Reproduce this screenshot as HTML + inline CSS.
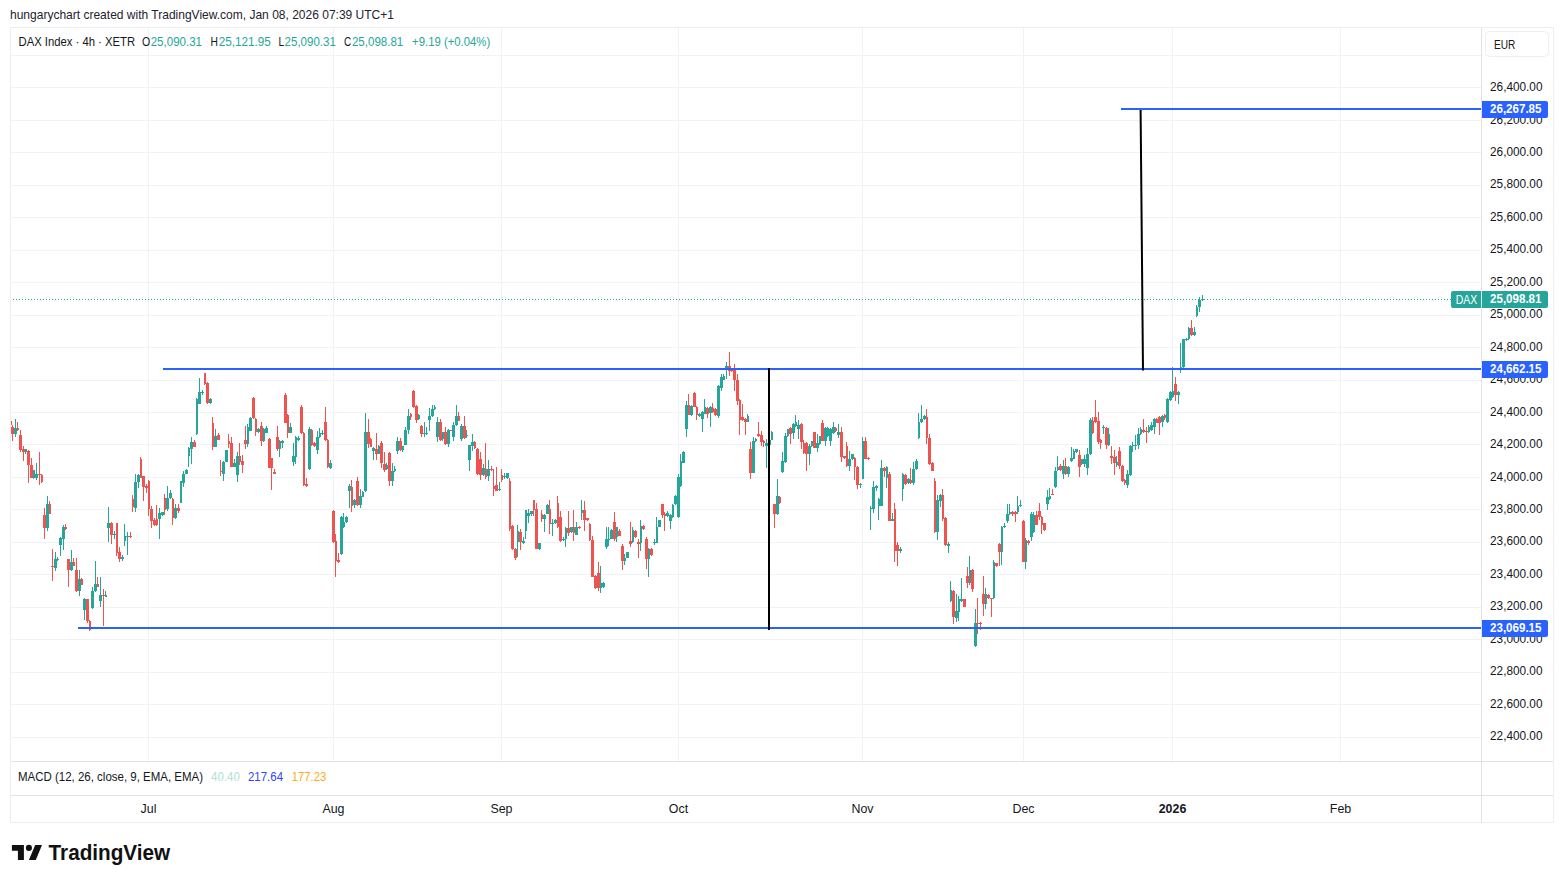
<!DOCTYPE html>
<html lang="en"><head><meta charset="utf-8"><title>DAX Index 4h chart</title>
<style>html,body{margin:0;padding:0;background:#fff}body{width:1563px;height:883px;overflow:hidden}svg{display:block}text{font-family:"Liberation Sans",Arial,sans-serif;font-size:12.4px}</style></head><body>
<svg width="1563" height="883" viewBox="0 0 1563 883">
<rect x="0" y="0" width="1563" height="883" fill="#fff"/>
<g shape-rendering="crispEdges" fill="#f1f2f5">
<rect x="11" y="55" width="1470" height="1"/>
<rect x="11" y="87" width="1470" height="1"/>
<rect x="11" y="120" width="1470" height="1"/>
<rect x="11" y="152" width="1470" height="1"/>
<rect x="11" y="185" width="1470" height="1"/>
<rect x="11" y="217" width="1470" height="1"/>
<rect x="11" y="250" width="1470" height="1"/>
<rect x="11" y="282" width="1470" height="1"/>
<rect x="11" y="315" width="1470" height="1"/>
<rect x="11" y="347" width="1470" height="1"/>
<rect x="11" y="380" width="1470" height="1"/>
<rect x="11" y="412" width="1470" height="1"/>
<rect x="11" y="444" width="1470" height="1"/>
<rect x="11" y="477" width="1470" height="1"/>
<rect x="11" y="509" width="1470" height="1"/>
<rect x="11" y="542" width="1470" height="1"/>
<rect x="11" y="574" width="1470" height="1"/>
<rect x="11" y="607" width="1470" height="1"/>
<rect x="11" y="639" width="1470" height="1"/>
<rect x="11" y="672" width="1470" height="1"/>
<rect x="11" y="704" width="1470" height="1"/>
<rect x="11" y="737" width="1470" height="1"/>
<rect x="148" y="28" width="1" height="733"/>
<rect x="333" y="28" width="1" height="733"/>
<rect x="501" y="28" width="1" height="733"/>
<rect x="678" y="28" width="1" height="733"/>
<rect x="862" y="28" width="1" height="733"/>
<rect x="1023" y="28" width="1" height="733"/>
<rect x="1172" y="28" width="1" height="733"/>
<rect x="1340" y="28" width="1" height="733"/>
</g>
<g shape-rendering="crispEdges">
<rect x="10" y="27" width="1544" height="1" fill="#eceef1"/>
<rect x="10" y="822" width="1544" height="1" fill="#eceef1"/>
<rect x="10" y="27" width="1" height="796" fill="#eceef1"/>
<rect x="1553" y="27" width="1" height="796" fill="#eceef1"/>
<rect x="1481" y="28" width="1" height="794" fill="#e0e2e8"/>
<rect x="11" y="761" width="1542" height="1" fill="#e0e2e8"/>
<rect x="11" y="795" width="1542" height="1" fill="#e0e2e8"/>
</g>
<g shape-rendering="crispEdges" fill="#26a69a">
<path d="M13 299h1v1h-1zM16 299h1v1h-1zM19 299h1v1h-1zM22 299h1v1h-1zM25 299h1v1h-1zM28 299h1v1h-1zM31 299h1v1h-1zM34 299h1v1h-1zM37 299h1v1h-1zM40 299h1v1h-1zM43 299h1v1h-1zM46 299h1v1h-1zM49 299h1v1h-1zM52 299h1v1h-1zM55 299h1v1h-1zM58 299h1v1h-1zM61 299h1v1h-1zM64 299h1v1h-1zM67 299h1v1h-1zM70 299h1v1h-1zM73 299h1v1h-1zM76 299h1v1h-1zM79 299h1v1h-1zM82 299h1v1h-1zM85 299h1v1h-1zM88 299h1v1h-1zM91 299h1v1h-1zM94 299h1v1h-1zM97 299h1v1h-1zM100 299h1v1h-1zM103 299h1v1h-1zM106 299h1v1h-1zM109 299h1v1h-1zM112 299h1v1h-1zM115 299h1v1h-1zM118 299h1v1h-1zM121 299h1v1h-1zM124 299h1v1h-1zM127 299h1v1h-1zM130 299h1v1h-1zM133 299h1v1h-1zM136 299h1v1h-1zM139 299h1v1h-1zM142 299h1v1h-1zM145 299h1v1h-1zM148 299h1v1h-1zM151 299h1v1h-1zM154 299h1v1h-1zM157 299h1v1h-1zM160 299h1v1h-1zM163 299h1v1h-1zM166 299h1v1h-1zM169 299h1v1h-1zM172 299h1v1h-1zM175 299h1v1h-1zM178 299h1v1h-1zM181 299h1v1h-1zM184 299h1v1h-1zM187 299h1v1h-1zM190 299h1v1h-1zM193 299h1v1h-1zM196 299h1v1h-1zM199 299h1v1h-1zM202 299h1v1h-1zM205 299h1v1h-1zM208 299h1v1h-1zM211 299h1v1h-1zM214 299h1v1h-1zM217 299h1v1h-1zM220 299h1v1h-1zM223 299h1v1h-1zM226 299h1v1h-1zM229 299h1v1h-1zM232 299h1v1h-1zM235 299h1v1h-1zM238 299h1v1h-1zM241 299h1v1h-1zM244 299h1v1h-1zM247 299h1v1h-1zM250 299h1v1h-1zM253 299h1v1h-1zM256 299h1v1h-1zM259 299h1v1h-1zM262 299h1v1h-1zM265 299h1v1h-1zM268 299h1v1h-1zM271 299h1v1h-1zM274 299h1v1h-1zM277 299h1v1h-1zM280 299h1v1h-1zM283 299h1v1h-1zM286 299h1v1h-1zM289 299h1v1h-1zM292 299h1v1h-1zM295 299h1v1h-1zM298 299h1v1h-1zM301 299h1v1h-1zM304 299h1v1h-1zM307 299h1v1h-1zM310 299h1v1h-1zM313 299h1v1h-1zM316 299h1v1h-1zM319 299h1v1h-1zM322 299h1v1h-1zM325 299h1v1h-1zM328 299h1v1h-1zM331 299h1v1h-1zM334 299h1v1h-1zM337 299h1v1h-1zM340 299h1v1h-1zM343 299h1v1h-1zM346 299h1v1h-1zM349 299h1v1h-1zM352 299h1v1h-1zM355 299h1v1h-1zM358 299h1v1h-1zM361 299h1v1h-1zM364 299h1v1h-1zM367 299h1v1h-1zM370 299h1v1h-1zM373 299h1v1h-1zM376 299h1v1h-1zM379 299h1v1h-1zM382 299h1v1h-1zM385 299h1v1h-1zM388 299h1v1h-1zM391 299h1v1h-1zM394 299h1v1h-1zM397 299h1v1h-1zM400 299h1v1h-1zM403 299h1v1h-1zM406 299h1v1h-1zM409 299h1v1h-1zM412 299h1v1h-1zM415 299h1v1h-1zM418 299h1v1h-1zM421 299h1v1h-1zM424 299h1v1h-1zM427 299h1v1h-1zM430 299h1v1h-1zM433 299h1v1h-1zM436 299h1v1h-1zM439 299h1v1h-1zM442 299h1v1h-1zM445 299h1v1h-1zM448 299h1v1h-1zM451 299h1v1h-1zM454 299h1v1h-1zM457 299h1v1h-1zM460 299h1v1h-1zM463 299h1v1h-1zM466 299h1v1h-1zM469 299h1v1h-1zM472 299h1v1h-1zM475 299h1v1h-1zM478 299h1v1h-1zM481 299h1v1h-1zM484 299h1v1h-1zM487 299h1v1h-1zM490 299h1v1h-1zM493 299h1v1h-1zM496 299h1v1h-1zM499 299h1v1h-1zM502 299h1v1h-1zM505 299h1v1h-1zM508 299h1v1h-1zM511 299h1v1h-1zM514 299h1v1h-1zM517 299h1v1h-1zM520 299h1v1h-1zM523 299h1v1h-1zM526 299h1v1h-1zM529 299h1v1h-1zM532 299h1v1h-1zM535 299h1v1h-1zM538 299h1v1h-1zM541 299h1v1h-1zM544 299h1v1h-1zM547 299h1v1h-1zM550 299h1v1h-1zM553 299h1v1h-1zM556 299h1v1h-1zM559 299h1v1h-1zM562 299h1v1h-1zM565 299h1v1h-1zM568 299h1v1h-1zM571 299h1v1h-1zM574 299h1v1h-1zM577 299h1v1h-1zM580 299h1v1h-1zM583 299h1v1h-1zM586 299h1v1h-1zM589 299h1v1h-1zM592 299h1v1h-1zM595 299h1v1h-1zM598 299h1v1h-1zM601 299h1v1h-1zM604 299h1v1h-1zM607 299h1v1h-1zM610 299h1v1h-1zM613 299h1v1h-1zM616 299h1v1h-1zM619 299h1v1h-1zM622 299h1v1h-1zM625 299h1v1h-1zM628 299h1v1h-1zM631 299h1v1h-1zM634 299h1v1h-1zM637 299h1v1h-1zM640 299h1v1h-1zM643 299h1v1h-1zM646 299h1v1h-1zM649 299h1v1h-1zM652 299h1v1h-1zM655 299h1v1h-1zM658 299h1v1h-1zM661 299h1v1h-1zM664 299h1v1h-1zM667 299h1v1h-1zM670 299h1v1h-1zM673 299h1v1h-1zM676 299h1v1h-1zM679 299h1v1h-1zM682 299h1v1h-1zM685 299h1v1h-1zM688 299h1v1h-1zM691 299h1v1h-1zM694 299h1v1h-1zM697 299h1v1h-1zM700 299h1v1h-1zM703 299h1v1h-1zM706 299h1v1h-1zM709 299h1v1h-1zM712 299h1v1h-1zM715 299h1v1h-1zM718 299h1v1h-1zM721 299h1v1h-1zM724 299h1v1h-1zM727 299h1v1h-1zM730 299h1v1h-1zM733 299h1v1h-1zM736 299h1v1h-1zM739 299h1v1h-1zM742 299h1v1h-1zM745 299h1v1h-1zM748 299h1v1h-1zM751 299h1v1h-1zM754 299h1v1h-1zM757 299h1v1h-1zM760 299h1v1h-1zM763 299h1v1h-1zM766 299h1v1h-1zM769 299h1v1h-1zM772 299h1v1h-1zM775 299h1v1h-1zM778 299h1v1h-1zM781 299h1v1h-1zM784 299h1v1h-1zM787 299h1v1h-1zM790 299h1v1h-1zM793 299h1v1h-1zM796 299h1v1h-1zM799 299h1v1h-1zM802 299h1v1h-1zM805 299h1v1h-1zM808 299h1v1h-1zM811 299h1v1h-1zM814 299h1v1h-1zM817 299h1v1h-1zM820 299h1v1h-1zM823 299h1v1h-1zM826 299h1v1h-1zM829 299h1v1h-1zM832 299h1v1h-1zM835 299h1v1h-1zM838 299h1v1h-1zM841 299h1v1h-1zM844 299h1v1h-1zM847 299h1v1h-1zM850 299h1v1h-1zM853 299h1v1h-1zM856 299h1v1h-1zM859 299h1v1h-1zM862 299h1v1h-1zM865 299h1v1h-1zM868 299h1v1h-1zM871 299h1v1h-1zM874 299h1v1h-1zM877 299h1v1h-1zM880 299h1v1h-1zM883 299h1v1h-1zM886 299h1v1h-1zM889 299h1v1h-1zM892 299h1v1h-1zM895 299h1v1h-1zM898 299h1v1h-1zM901 299h1v1h-1zM904 299h1v1h-1zM907 299h1v1h-1zM910 299h1v1h-1zM913 299h1v1h-1zM916 299h1v1h-1zM919 299h1v1h-1zM922 299h1v1h-1zM925 299h1v1h-1zM928 299h1v1h-1zM931 299h1v1h-1zM934 299h1v1h-1zM937 299h1v1h-1zM940 299h1v1h-1zM943 299h1v1h-1zM946 299h1v1h-1zM949 299h1v1h-1zM952 299h1v1h-1zM955 299h1v1h-1zM958 299h1v1h-1zM961 299h1v1h-1zM964 299h1v1h-1zM967 299h1v1h-1zM970 299h1v1h-1zM973 299h1v1h-1zM976 299h1v1h-1zM979 299h1v1h-1zM982 299h1v1h-1zM985 299h1v1h-1zM988 299h1v1h-1zM991 299h1v1h-1zM994 299h1v1h-1zM997 299h1v1h-1zM1000 299h1v1h-1zM1003 299h1v1h-1zM1006 299h1v1h-1zM1009 299h1v1h-1zM1012 299h1v1h-1zM1015 299h1v1h-1zM1018 299h1v1h-1zM1021 299h1v1h-1zM1024 299h1v1h-1zM1027 299h1v1h-1zM1030 299h1v1h-1zM1033 299h1v1h-1zM1036 299h1v1h-1zM1039 299h1v1h-1zM1042 299h1v1h-1zM1045 299h1v1h-1zM1048 299h1v1h-1zM1051 299h1v1h-1zM1054 299h1v1h-1zM1057 299h1v1h-1zM1060 299h1v1h-1zM1063 299h1v1h-1zM1066 299h1v1h-1zM1069 299h1v1h-1zM1072 299h1v1h-1zM1075 299h1v1h-1zM1078 299h1v1h-1zM1081 299h1v1h-1zM1084 299h1v1h-1zM1087 299h1v1h-1zM1090 299h1v1h-1zM1093 299h1v1h-1zM1096 299h1v1h-1zM1099 299h1v1h-1zM1102 299h1v1h-1zM1105 299h1v1h-1zM1108 299h1v1h-1zM1111 299h1v1h-1zM1114 299h1v1h-1zM1117 299h1v1h-1zM1120 299h1v1h-1zM1123 299h1v1h-1zM1126 299h1v1h-1zM1129 299h1v1h-1zM1132 299h1v1h-1zM1135 299h1v1h-1zM1138 299h1v1h-1zM1141 299h1v1h-1zM1144 299h1v1h-1zM1147 299h1v1h-1zM1150 299h1v1h-1zM1153 299h1v1h-1zM1156 299h1v1h-1zM1159 299h1v1h-1zM1162 299h1v1h-1zM1165 299h1v1h-1zM1168 299h1v1h-1zM1171 299h1v1h-1zM1174 299h1v1h-1zM1177 299h1v1h-1zM1180 299h1v1h-1zM1183 299h1v1h-1zM1186 299h1v1h-1zM1189 299h1v1h-1zM1192 299h1v1h-1zM1195 299h1v1h-1zM1198 299h1v1h-1zM1201 299h1v1h-1zM1204 299h1v1h-1zM1207 299h1v1h-1zM1210 299h1v1h-1zM1213 299h1v1h-1zM1216 299h1v1h-1zM1219 299h1v1h-1zM1222 299h1v1h-1zM1225 299h1v1h-1zM1228 299h1v1h-1zM1231 299h1v1h-1zM1234 299h1v1h-1zM1237 299h1v1h-1zM1240 299h1v1h-1zM1243 299h1v1h-1zM1246 299h1v1h-1zM1249 299h1v1h-1zM1252 299h1v1h-1zM1255 299h1v1h-1zM1258 299h1v1h-1zM1261 299h1v1h-1zM1264 299h1v1h-1zM1267 299h1v1h-1zM1270 299h1v1h-1zM1273 299h1v1h-1zM1276 299h1v1h-1zM1279 299h1v1h-1zM1282 299h1v1h-1zM1285 299h1v1h-1zM1288 299h1v1h-1zM1291 299h1v1h-1zM1294 299h1v1h-1zM1297 299h1v1h-1zM1300 299h1v1h-1zM1303 299h1v1h-1zM1306 299h1v1h-1zM1309 299h1v1h-1zM1312 299h1v1h-1zM1315 299h1v1h-1zM1318 299h1v1h-1zM1321 299h1v1h-1zM1324 299h1v1h-1zM1327 299h1v1h-1zM1330 299h1v1h-1zM1333 299h1v1h-1zM1336 299h1v1h-1zM1339 299h1v1h-1zM1342 299h1v1h-1zM1345 299h1v1h-1zM1348 299h1v1h-1zM1351 299h1v1h-1zM1354 299h1v1h-1zM1357 299h1v1h-1zM1360 299h1v1h-1zM1363 299h1v1h-1zM1366 299h1v1h-1zM1369 299h1v1h-1zM1372 299h1v1h-1zM1375 299h1v1h-1zM1378 299h1v1h-1zM1381 299h1v1h-1zM1384 299h1v1h-1zM1387 299h1v1h-1zM1390 299h1v1h-1zM1393 299h1v1h-1zM1396 299h1v1h-1zM1399 299h1v1h-1zM1402 299h1v1h-1zM1405 299h1v1h-1zM1408 299h1v1h-1zM1411 299h1v1h-1zM1414 299h1v1h-1zM1417 299h1v1h-1zM1420 299h1v1h-1zM1423 299h1v1h-1zM1426 299h1v1h-1zM1429 299h1v1h-1zM1432 299h1v1h-1zM1435 299h1v1h-1zM1438 299h1v1h-1zM1441 299h1v1h-1zM1444 299h1v1h-1zM1447 299h1v1h-1zM1450 299h1v1h-1z"/>
</g>
<g shape-rendering="crispEdges">
<rect x="11" y="421" width="1" height="4" fill="#ef5350"/>
<rect x="12" y="425" width="1" height="16" fill="#ef5350"/>
<rect x="11" y="427" width="3" height="7" fill="#ef5350"/>
<rect x="15" y="419" width="1" height="18" fill="#26a69a"/>
<rect x="14" y="428" width="3" height="6" fill="#26a69a"/>
<rect x="17" y="422" width="1" height="9" fill="#ef5350"/>
<rect x="17" y="428" width="2" height="2" fill="#ef5350"/>
<rect x="20" y="430" width="1" height="22" fill="#ef5350"/>
<rect x="19" y="435" width="3" height="15" fill="#ef5350"/>
<rect x="23" y="446" width="1" height="15" fill="#ef5350"/>
<rect x="22" y="449" width="3" height="3" fill="#ef5350"/>
<rect x="25" y="449" width="1" height="5" fill="#26a69a"/>
<rect x="25" y="449" width="2" height="3" fill="#26a69a"/>
<rect x="28" y="450" width="1" height="33" fill="#ef5350"/>
<rect x="27" y="451" width="3" height="14" fill="#ef5350"/>
<rect x="31" y="458" width="1" height="20" fill="#ef5350"/>
<rect x="30" y="465" width="3" height="13" fill="#ef5350"/>
<rect x="33" y="470" width="1" height="9" fill="#26a69a"/>
<rect x="33" y="470" width="2" height="8" fill="#26a69a"/>
<rect x="36" y="463" width="1" height="17" fill="#26a69a"/>
<rect x="35" y="474" width="3" height="4" fill="#26a69a"/>
<rect x="39" y="452" width="1" height="33" fill="#ef5350"/>
<rect x="38" y="474" width="3" height="1" fill="#ef5350"/>
<rect x="41" y="474" width="1" height="9" fill="#ef5350"/>
<rect x="41" y="475" width="2" height="7" fill="#ef5350"/>
<rect x="44" y="508" width="1" height="31" fill="#ef5350"/>
<rect x="43" y="515" width="3" height="13" fill="#ef5350"/>
<rect x="47" y="496" width="1" height="35" fill="#26a69a"/>
<rect x="46" y="504" width="3" height="24" fill="#26a69a"/>
<rect x="49" y="501" width="1" height="13" fill="#ef5350"/>
<rect x="49" y="504" width="2" height="10" fill="#ef5350"/>
<rect x="52" y="549" width="1" height="32" fill="#ef5350"/>
<rect x="51" y="566" width="3" height="1" fill="#ef5350"/>
<rect x="55" y="552" width="1" height="19" fill="#26a69a"/>
<rect x="54" y="559" width="3" height="9" fill="#26a69a"/>
<rect x="57" y="557" width="1" height="4" fill="#26a69a"/>
<rect x="57" y="559" width="2" height="1" fill="#26a69a"/>
<rect x="60" y="537" width="1" height="19" fill="#26a69a"/>
<rect x="59" y="538" width="3" height="7" fill="#26a69a"/>
<rect x="63" y="525" width="1" height="25" fill="#26a69a"/>
<rect x="62" y="527" width="3" height="12" fill="#26a69a"/>
<rect x="65" y="524" width="1" height="6" fill="#ef5350"/>
<rect x="65" y="527" width="2" height="2" fill="#ef5350"/>
<rect x="68" y="559" width="1" height="28" fill="#ef5350"/>
<rect x="67" y="559" width="3" height="11" fill="#ef5350"/>
<rect x="71" y="550" width="1" height="21" fill="#26a69a"/>
<rect x="70" y="562" width="3" height="8" fill="#26a69a"/>
<rect x="73" y="558" width="1" height="8" fill="#ef5350"/>
<rect x="73" y="562" width="2" height="4" fill="#ef5350"/>
<rect x="76" y="558" width="1" height="34" fill="#ef5350"/>
<rect x="75" y="570" width="3" height="21" fill="#ef5350"/>
<rect x="79" y="570" width="1" height="26" fill="#26a69a"/>
<rect x="78" y="579" width="3" height="12" fill="#26a69a"/>
<rect x="81" y="578" width="1" height="7" fill="#ef5350"/>
<rect x="81" y="579" width="2" height="6" fill="#ef5350"/>
<rect x="84" y="598" width="1" height="22" fill="#26a69a"/>
<rect x="83" y="599" width="3" height="11" fill="#26a69a"/>
<rect x="87" y="599" width="1" height="24" fill="#ef5350"/>
<rect x="86" y="599" width="3" height="22" fill="#ef5350"/>
<rect x="89" y="620" width="1" height="11" fill="#ef5350"/>
<rect x="89" y="621" width="2" height="9" fill="#ef5350"/>
<rect x="92" y="587" width="1" height="22" fill="#26a69a"/>
<rect x="91" y="591" width="3" height="17" fill="#26a69a"/>
<rect x="95" y="561" width="1" height="31" fill="#26a69a"/>
<rect x="94" y="584" width="3" height="7" fill="#26a69a"/>
<rect x="97" y="577" width="1" height="10" fill="#ef5350"/>
<rect x="97" y="584" width="2" height="3" fill="#ef5350"/>
<rect x="100" y="577" width="1" height="30" fill="#26a69a"/>
<rect x="99" y="595" width="3" height="6" fill="#26a69a"/>
<rect x="103" y="589" width="1" height="37" fill="#ef5350"/>
<rect x="102" y="595" width="3" height="1" fill="#ef5350"/>
<rect x="105" y="591" width="1" height="6" fill="#26a69a"/>
<rect x="105" y="595" width="2" height="2" fill="#26a69a"/>
<rect x="108" y="507" width="1" height="35" fill="#26a69a"/>
<rect x="107" y="523" width="3" height="5" fill="#26a69a"/>
<rect x="111" y="522" width="1" height="22" fill="#ef5350"/>
<rect x="110" y="523" width="3" height="12" fill="#ef5350"/>
<rect x="114" y="531" width="1" height="8" fill="#26a69a"/>
<rect x="113" y="534" width="3" height="1" fill="#26a69a"/>
<rect x="116" y="523" width="1" height="33" fill="#ef5350"/>
<rect x="116" y="523" width="2" height="30" fill="#ef5350"/>
<rect x="119" y="547" width="1" height="15" fill="#ef5350"/>
<rect x="118" y="552" width="3" height="7" fill="#ef5350"/>
<rect x="122" y="555" width="1" height="6" fill="#26a69a"/>
<rect x="121" y="557" width="3" height="2" fill="#26a69a"/>
<rect x="124" y="524" width="1" height="22" fill="#26a69a"/>
<rect x="124" y="536" width="2" height="5" fill="#26a69a"/>
<rect x="127" y="532" width="1" height="23" fill="#26a69a"/>
<rect x="126" y="536" width="3" height="1" fill="#26a69a"/>
<rect x="130" y="532" width="1" height="6" fill="#ef5350"/>
<rect x="129" y="536" width="3" height="1" fill="#ef5350"/>
<rect x="132" y="495" width="1" height="17" fill="#ef5350"/>
<rect x="132" y="499" width="2" height="8" fill="#ef5350"/>
<rect x="135" y="474" width="1" height="38" fill="#26a69a"/>
<rect x="134" y="482" width="3" height="26" fill="#26a69a"/>
<rect x="138" y="474" width="1" height="14" fill="#26a69a"/>
<rect x="137" y="475" width="3" height="7" fill="#26a69a"/>
<rect x="140" y="457" width="1" height="21" fill="#ef5350"/>
<rect x="140" y="459" width="2" height="19" fill="#ef5350"/>
<rect x="143" y="476" width="1" height="25" fill="#ef5350"/>
<rect x="142" y="476" width="3" height="11" fill="#ef5350"/>
<rect x="146" y="484" width="1" height="9" fill="#ef5350"/>
<rect x="145" y="486" width="3" height="2" fill="#ef5350"/>
<rect x="148" y="480" width="1" height="36" fill="#ef5350"/>
<rect x="148" y="481" width="2" height="28" fill="#ef5350"/>
<rect x="151" y="506" width="1" height="22" fill="#ef5350"/>
<rect x="150" y="509" width="3" height="12" fill="#ef5350"/>
<rect x="154" y="518" width="1" height="8" fill="#ef5350"/>
<rect x="153" y="520" width="3" height="5" fill="#ef5350"/>
<rect x="156" y="505" width="1" height="21" fill="#ef5350"/>
<rect x="156" y="519" width="2" height="6" fill="#ef5350"/>
<rect x="159" y="508" width="1" height="31" fill="#26a69a"/>
<rect x="158" y="513" width="3" height="6" fill="#26a69a"/>
<rect x="162" y="512" width="1" height="4" fill="#26a69a"/>
<rect x="161" y="512" width="3" height="3" fill="#26a69a"/>
<rect x="164" y="494" width="1" height="21" fill="#ef5350"/>
<rect x="164" y="498" width="2" height="12" fill="#ef5350"/>
<rect x="167" y="486" width="1" height="25" fill="#26a69a"/>
<rect x="166" y="498" width="3" height="11" fill="#26a69a"/>
<rect x="170" y="490" width="1" height="9" fill="#26a69a"/>
<rect x="169" y="493" width="3" height="5" fill="#26a69a"/>
<rect x="172" y="498" width="1" height="27" fill="#ef5350"/>
<rect x="172" y="499" width="2" height="19" fill="#ef5350"/>
<rect x="175" y="504" width="1" height="15" fill="#26a69a"/>
<rect x="174" y="508" width="3" height="10" fill="#26a69a"/>
<rect x="178" y="504" width="1" height="9" fill="#ef5350"/>
<rect x="177" y="508" width="3" height="3" fill="#ef5350"/>
<rect x="180" y="481" width="1" height="22" fill="#26a69a"/>
<rect x="180" y="481" width="2" height="22" fill="#26a69a"/>
<rect x="183" y="471" width="1" height="16" fill="#26a69a"/>
<rect x="182" y="474" width="3" height="9" fill="#26a69a"/>
<rect x="186" y="469" width="1" height="5" fill="#26a69a"/>
<rect x="185" y="470" width="3" height="4" fill="#26a69a"/>
<rect x="188" y="447" width="1" height="20" fill="#26a69a"/>
<rect x="188" y="448" width="2" height="8" fill="#26a69a"/>
<rect x="191" y="437" width="1" height="27" fill="#26a69a"/>
<rect x="190" y="442" width="3" height="7" fill="#26a69a"/>
<rect x="194" y="440" width="1" height="7" fill="#ef5350"/>
<rect x="193" y="442" width="3" height="5" fill="#ef5350"/>
<rect x="196" y="398" width="1" height="37" fill="#26a69a"/>
<rect x="196" y="399" width="2" height="35" fill="#26a69a"/>
<rect x="199" y="378" width="1" height="26" fill="#26a69a"/>
<rect x="198" y="392" width="3" height="12" fill="#26a69a"/>
<rect x="202" y="390" width="1" height="5" fill="#26a69a"/>
<rect x="201" y="392" width="3" height="1" fill="#26a69a"/>
<rect x="204" y="373" width="1" height="12" fill="#ef5350"/>
<rect x="204" y="373" width="2" height="11" fill="#ef5350"/>
<rect x="207" y="382" width="1" height="22" fill="#ef5350"/>
<rect x="206" y="383" width="3" height="20" fill="#ef5350"/>
<rect x="210" y="398" width="1" height="6" fill="#26a69a"/>
<rect x="209" y="399" width="3" height="4" fill="#26a69a"/>
<rect x="212" y="417" width="1" height="33" fill="#ef5350"/>
<rect x="212" y="423" width="2" height="24" fill="#ef5350"/>
<rect x="215" y="429" width="1" height="18" fill="#26a69a"/>
<rect x="214" y="436" width="3" height="11" fill="#26a69a"/>
<rect x="218" y="433" width="1" height="7" fill="#ef5350"/>
<rect x="217" y="435" width="3" height="5" fill="#ef5350"/>
<rect x="220" y="460" width="1" height="16" fill="#ef5350"/>
<rect x="220" y="471" width="2" height="1" fill="#ef5350"/>
<rect x="223" y="461" width="1" height="20" fill="#26a69a"/>
<rect x="222" y="462" width="3" height="12" fill="#26a69a"/>
<rect x="226" y="450" width="1" height="12" fill="#26a69a"/>
<rect x="225" y="450" width="3" height="12" fill="#26a69a"/>
<rect x="228" y="434" width="1" height="14" fill="#ef5350"/>
<rect x="228" y="441" width="2" height="3" fill="#ef5350"/>
<rect x="231" y="437" width="1" height="30" fill="#ef5350"/>
<rect x="230" y="443" width="3" height="24" fill="#ef5350"/>
<rect x="234" y="459" width="1" height="8" fill="#26a69a"/>
<rect x="233" y="463" width="3" height="4" fill="#26a69a"/>
<rect x="237" y="452" width="1" height="30" fill="#26a69a"/>
<rect x="236" y="456" width="3" height="19" fill="#26a69a"/>
<rect x="239" y="443" width="1" height="22" fill="#ef5350"/>
<rect x="239" y="456" width="2" height="6" fill="#ef5350"/>
<rect x="242" y="455" width="1" height="18" fill="#ef5350"/>
<rect x="241" y="461" width="3" height="4" fill="#ef5350"/>
<rect x="245" y="426" width="1" height="23" fill="#ef5350"/>
<rect x="244" y="440" width="3" height="4" fill="#ef5350"/>
<rect x="247" y="424" width="1" height="23" fill="#26a69a"/>
<rect x="247" y="427" width="2" height="17" fill="#26a69a"/>
<rect x="250" y="417" width="1" height="14" fill="#26a69a"/>
<rect x="249" y="418" width="3" height="13" fill="#26a69a"/>
<rect x="253" y="397" width="1" height="22" fill="#ef5350"/>
<rect x="252" y="398" width="3" height="20" fill="#ef5350"/>
<rect x="255" y="418" width="1" height="18" fill="#ef5350"/>
<rect x="255" y="419" width="2" height="13" fill="#ef5350"/>
<rect x="258" y="428" width="1" height="5" fill="#26a69a"/>
<rect x="257" y="429" width="3" height="3" fill="#26a69a"/>
<rect x="261" y="422" width="1" height="24" fill="#ef5350"/>
<rect x="260" y="426" width="3" height="15" fill="#ef5350"/>
<rect x="263" y="428" width="1" height="14" fill="#26a69a"/>
<rect x="263" y="429" width="2" height="12" fill="#26a69a"/>
<rect x="266" y="426" width="1" height="7" fill="#26a69a"/>
<rect x="265" y="428" width="3" height="5" fill="#26a69a"/>
<rect x="269" y="438" width="1" height="30" fill="#ef5350"/>
<rect x="268" y="439" width="3" height="29" fill="#ef5350"/>
<rect x="271" y="458" width="1" height="32" fill="#ef5350"/>
<rect x="271" y="458" width="2" height="10" fill="#ef5350"/>
<rect x="274" y="469" width="1" height="5" fill="#ef5350"/>
<rect x="273" y="472" width="3" height="2" fill="#ef5350"/>
<rect x="277" y="426" width="1" height="25" fill="#ef5350"/>
<rect x="276" y="437" width="3" height="12" fill="#ef5350"/>
<rect x="279" y="440" width="1" height="17" fill="#26a69a"/>
<rect x="279" y="441" width="2" height="8" fill="#26a69a"/>
<rect x="282" y="440" width="1" height="8" fill="#26a69a"/>
<rect x="281" y="441" width="3" height="2" fill="#26a69a"/>
<rect x="285" y="393" width="1" height="30" fill="#ef5350"/>
<rect x="284" y="395" width="3" height="28" fill="#ef5350"/>
<rect x="287" y="414" width="1" height="24" fill="#ef5350"/>
<rect x="287" y="415" width="2" height="18" fill="#ef5350"/>
<rect x="290" y="423" width="1" height="10" fill="#26a69a"/>
<rect x="289" y="427" width="3" height="6" fill="#26a69a"/>
<rect x="293" y="443" width="1" height="23" fill="#26a69a"/>
<rect x="292" y="456" width="3" height="6" fill="#26a69a"/>
<rect x="295" y="436" width="1" height="28" fill="#26a69a"/>
<rect x="295" y="437" width="2" height="20" fill="#26a69a"/>
<rect x="298" y="436" width="1" height="5" fill="#26a69a"/>
<rect x="297" y="438" width="3" height="2" fill="#26a69a"/>
<rect x="301" y="405" width="1" height="29" fill="#ef5350"/>
<rect x="300" y="407" width="3" height="26" fill="#ef5350"/>
<rect x="303" y="432" width="1" height="54" fill="#ef5350"/>
<rect x="303" y="433" width="2" height="52" fill="#ef5350"/>
<rect x="306" y="478" width="1" height="9" fill="#ef5350"/>
<rect x="305" y="484" width="3" height="2" fill="#ef5350"/>
<rect x="309" y="427" width="1" height="43" fill="#26a69a"/>
<rect x="308" y="429" width="3" height="40" fill="#26a69a"/>
<rect x="311" y="429" width="1" height="17" fill="#ef5350"/>
<rect x="311" y="430" width="2" height="15" fill="#ef5350"/>
<rect x="314" y="442" width="1" height="5" fill="#ef5350"/>
<rect x="313" y="443" width="3" height="3" fill="#ef5350"/>
<rect x="317" y="431" width="1" height="23" fill="#26a69a"/>
<rect x="316" y="437" width="3" height="13" fill="#26a69a"/>
<rect x="319" y="428" width="1" height="10" fill="#26a69a"/>
<rect x="319" y="433" width="2" height="4" fill="#26a69a"/>
<rect x="322" y="430" width="1" height="5" fill="#26a69a"/>
<rect x="321" y="433" width="3" height="1" fill="#26a69a"/>
<rect x="325" y="407" width="1" height="34" fill="#ef5350"/>
<rect x="324" y="422" width="3" height="18" fill="#ef5350"/>
<rect x="327" y="439" width="1" height="29" fill="#ef5350"/>
<rect x="327" y="440" width="2" height="27" fill="#ef5350"/>
<rect x="330" y="460" width="1" height="9" fill="#26a69a"/>
<rect x="329" y="463" width="3" height="5" fill="#26a69a"/>
<rect x="333" y="510" width="1" height="33" fill="#ef5350"/>
<rect x="332" y="511" width="3" height="31" fill="#ef5350"/>
<rect x="335" y="534" width="1" height="43" fill="#ef5350"/>
<rect x="335" y="541" width="2" height="20" fill="#ef5350"/>
<rect x="338" y="553" width="1" height="10" fill="#ef5350"/>
<rect x="337" y="560" width="3" height="2" fill="#ef5350"/>
<rect x="341" y="516" width="1" height="39" fill="#26a69a"/>
<rect x="340" y="517" width="3" height="37" fill="#26a69a"/>
<rect x="343" y="513" width="1" height="15" fill="#26a69a"/>
<rect x="343" y="522" width="2" height="5" fill="#26a69a"/>
<rect x="346" y="516" width="1" height="7" fill="#26a69a"/>
<rect x="345" y="517" width="3" height="5" fill="#26a69a"/>
<rect x="349" y="484" width="1" height="24" fill="#26a69a"/>
<rect x="348" y="486" width="3" height="5" fill="#26a69a"/>
<rect x="351" y="480" width="1" height="32" fill="#ef5350"/>
<rect x="351" y="487" width="2" height="19" fill="#ef5350"/>
<rect x="354" y="499" width="1" height="9" fill="#26a69a"/>
<rect x="353" y="500" width="3" height="5" fill="#26a69a"/>
<rect x="357" y="477" width="1" height="29" fill="#ef5350"/>
<rect x="356" y="481" width="3" height="24" fill="#ef5350"/>
<rect x="360" y="489" width="1" height="19" fill="#26a69a"/>
<rect x="359" y="496" width="3" height="9" fill="#26a69a"/>
<rect x="362" y="491" width="1" height="6" fill="#26a69a"/>
<rect x="362" y="492" width="2" height="5" fill="#26a69a"/>
<rect x="365" y="413" width="1" height="79" fill="#26a69a"/>
<rect x="364" y="432" width="3" height="59" fill="#26a69a"/>
<rect x="368" y="419" width="1" height="29" fill="#ef5350"/>
<rect x="367" y="432" width="3" height="12" fill="#ef5350"/>
<rect x="370" y="438" width="1" height="9" fill="#ef5350"/>
<rect x="370" y="439" width="2" height="8" fill="#ef5350"/>
<rect x="373" y="447" width="1" height="13" fill="#26a69a"/>
<rect x="372" y="448" width="3" height="3" fill="#26a69a"/>
<rect x="376" y="433" width="1" height="27" fill="#ef5350"/>
<rect x="375" y="449" width="3" height="5" fill="#ef5350"/>
<rect x="378" y="445" width="1" height="9" fill="#26a69a"/>
<rect x="378" y="446" width="2" height="8" fill="#26a69a"/>
<rect x="381" y="441" width="1" height="27" fill="#ef5350"/>
<rect x="380" y="443" width="3" height="20" fill="#ef5350"/>
<rect x="384" y="452" width="1" height="20" fill="#ef5350"/>
<rect x="383" y="464" width="3" height="6" fill="#ef5350"/>
<rect x="386" y="463" width="1" height="7" fill="#26a69a"/>
<rect x="386" y="465" width="2" height="4" fill="#26a69a"/>
<rect x="389" y="452" width="1" height="34" fill="#ef5350"/>
<rect x="388" y="453" width="3" height="28" fill="#ef5350"/>
<rect x="392" y="463" width="1" height="23" fill="#26a69a"/>
<rect x="391" y="471" width="3" height="10" fill="#26a69a"/>
<rect x="394" y="466" width="1" height="6" fill="#26a69a"/>
<rect x="394" y="469" width="2" height="2" fill="#26a69a"/>
<rect x="397" y="437" width="1" height="17" fill="#26a69a"/>
<rect x="396" y="441" width="3" height="10" fill="#26a69a"/>
<rect x="400" y="438" width="1" height="13" fill="#ef5350"/>
<rect x="399" y="441" width="3" height="9" fill="#ef5350"/>
<rect x="402" y="446" width="1" height="6" fill="#26a69a"/>
<rect x="402" y="446" width="2" height="4" fill="#26a69a"/>
<rect x="405" y="427" width="1" height="18" fill="#26a69a"/>
<rect x="404" y="430" width="3" height="15" fill="#26a69a"/>
<rect x="408" y="409" width="1" height="25" fill="#26a69a"/>
<rect x="407" y="416" width="3" height="14" fill="#26a69a"/>
<rect x="410" y="413" width="1" height="7" fill="#ef5350"/>
<rect x="410" y="414" width="2" height="3" fill="#ef5350"/>
<rect x="413" y="390" width="1" height="18" fill="#ef5350"/>
<rect x="412" y="391" width="3" height="16" fill="#ef5350"/>
<rect x="416" y="405" width="1" height="18" fill="#ef5350"/>
<rect x="415" y="406" width="3" height="14" fill="#ef5350"/>
<rect x="418" y="414" width="1" height="6" fill="#26a69a"/>
<rect x="418" y="415" width="2" height="4" fill="#26a69a"/>
<rect x="421" y="425" width="1" height="12" fill="#ef5350"/>
<rect x="420" y="426" width="3" height="8" fill="#ef5350"/>
<rect x="424" y="422" width="1" height="15" fill="#26a69a"/>
<rect x="423" y="433" width="3" height="1" fill="#26a69a"/>
<rect x="426" y="427" width="1" height="8" fill="#26a69a"/>
<rect x="426" y="433" width="2" height="1" fill="#26a69a"/>
<rect x="429" y="408" width="1" height="23" fill="#26a69a"/>
<rect x="428" y="416" width="3" height="4" fill="#26a69a"/>
<rect x="432" y="405" width="1" height="12" fill="#26a69a"/>
<rect x="431" y="409" width="3" height="7" fill="#26a69a"/>
<rect x="434" y="405" width="1" height="5" fill="#26a69a"/>
<rect x="434" y="407" width="2" height="2" fill="#26a69a"/>
<rect x="437" y="417" width="1" height="25" fill="#26a69a"/>
<rect x="436" y="422" width="3" height="15" fill="#26a69a"/>
<rect x="440" y="419" width="1" height="22" fill="#ef5350"/>
<rect x="439" y="422" width="3" height="18" fill="#ef5350"/>
<rect x="442" y="432" width="1" height="9" fill="#26a69a"/>
<rect x="442" y="432" width="2" height="7" fill="#26a69a"/>
<rect x="445" y="427" width="1" height="18" fill="#ef5350"/>
<rect x="444" y="432" width="3" height="12" fill="#ef5350"/>
<rect x="448" y="429" width="1" height="18" fill="#26a69a"/>
<rect x="447" y="430" width="3" height="14" fill="#26a69a"/>
<rect x="450" y="430" width="1" height="1" fill="#ef5350"/>
<rect x="450" y="430" width="2" height="1" fill="#ef5350"/>
<rect x="453" y="422" width="1" height="19" fill="#26a69a"/>
<rect x="452" y="425" width="3" height="12" fill="#26a69a"/>
<rect x="456" y="405" width="1" height="21" fill="#26a69a"/>
<rect x="455" y="416" width="3" height="9" fill="#26a69a"/>
<rect x="458" y="412" width="1" height="9" fill="#ef5350"/>
<rect x="458" y="416" width="2" height="5" fill="#ef5350"/>
<rect x="461" y="424" width="1" height="17" fill="#26a69a"/>
<rect x="460" y="426" width="3" height="13" fill="#26a69a"/>
<rect x="464" y="416" width="1" height="23" fill="#ef5350"/>
<rect x="463" y="426" width="3" height="12" fill="#ef5350"/>
<rect x="466" y="430" width="1" height="8" fill="#26a69a"/>
<rect x="466" y="435" width="2" height="1" fill="#26a69a"/>
<rect x="469" y="445" width="1" height="26" fill="#26a69a"/>
<rect x="468" y="445" width="3" height="15" fill="#26a69a"/>
<rect x="472" y="434" width="1" height="17" fill="#26a69a"/>
<rect x="471" y="442" width="3" height="4" fill="#26a69a"/>
<rect x="474" y="441" width="1" height="8" fill="#ef5350"/>
<rect x="474" y="442" width="2" height="6" fill="#ef5350"/>
<rect x="477" y="448" width="1" height="27" fill="#ef5350"/>
<rect x="476" y="449" width="3" height="25" fill="#ef5350"/>
<rect x="480" y="452" width="1" height="28" fill="#ef5350"/>
<rect x="479" y="459" width="3" height="16" fill="#ef5350"/>
<rect x="483" y="464" width="1" height="12" fill="#26a69a"/>
<rect x="482" y="468" width="3" height="7" fill="#26a69a"/>
<rect x="485" y="443" width="1" height="36" fill="#ef5350"/>
<rect x="485" y="469" width="2" height="8" fill="#ef5350"/>
<rect x="488" y="460" width="1" height="21" fill="#26a69a"/>
<rect x="487" y="469" width="3" height="7" fill="#26a69a"/>
<rect x="491" y="466" width="1" height="5" fill="#ef5350"/>
<rect x="490" y="469" width="3" height="1" fill="#ef5350"/>
<rect x="493" y="469" width="1" height="27" fill="#ef5350"/>
<rect x="493" y="486" width="2" height="3" fill="#ef5350"/>
<rect x="496" y="467" width="1" height="24" fill="#ef5350"/>
<rect x="495" y="485" width="3" height="6" fill="#ef5350"/>
<rect x="499" y="482" width="1" height="9" fill="#26a69a"/>
<rect x="498" y="489" width="3" height="1" fill="#26a69a"/>
<rect x="501" y="469" width="1" height="13" fill="#ef5350"/>
<rect x="501" y="475" width="2" height="5" fill="#ef5350"/>
<rect x="504" y="473" width="1" height="6" fill="#26a69a"/>
<rect x="503" y="476" width="3" height="1" fill="#26a69a"/>
<rect x="507" y="473" width="1" height="6" fill="#26a69a"/>
<rect x="506" y="473" width="3" height="5" fill="#26a69a"/>
<rect x="509" y="478" width="1" height="53" fill="#ef5350"/>
<rect x="509" y="481" width="2" height="48" fill="#ef5350"/>
<rect x="512" y="525" width="1" height="25" fill="#ef5350"/>
<rect x="511" y="526" width="3" height="23" fill="#ef5350"/>
<rect x="515" y="548" width="1" height="12" fill="#ef5350"/>
<rect x="514" y="549" width="3" height="9" fill="#ef5350"/>
<rect x="517" y="525" width="1" height="32" fill="#26a69a"/>
<rect x="517" y="531" width="2" height="11" fill="#26a69a"/>
<rect x="520" y="529" width="1" height="21" fill="#ef5350"/>
<rect x="519" y="532" width="3" height="10" fill="#ef5350"/>
<rect x="523" y="537" width="1" height="7" fill="#26a69a"/>
<rect x="522" y="541" width="3" height="2" fill="#26a69a"/>
<rect x="525" y="510" width="1" height="29" fill="#26a69a"/>
<rect x="525" y="510" width="2" height="21" fill="#26a69a"/>
<rect x="528" y="509" width="1" height="14" fill="#26a69a"/>
<rect x="527" y="513" width="3" height="3" fill="#26a69a"/>
<rect x="531" y="511" width="1" height="5" fill="#26a69a"/>
<rect x="530" y="511" width="3" height="3" fill="#26a69a"/>
<rect x="533" y="500" width="1" height="16" fill="#ef5350"/>
<rect x="533" y="500" width="2" height="10" fill="#ef5350"/>
<rect x="536" y="503" width="1" height="46" fill="#ef5350"/>
<rect x="535" y="509" width="3" height="40" fill="#ef5350"/>
<rect x="539" y="543" width="1" height="7" fill="#26a69a"/>
<rect x="538" y="543" width="3" height="6" fill="#26a69a"/>
<rect x="541" y="510" width="1" height="12" fill="#ef5350"/>
<rect x="541" y="514" width="2" height="5" fill="#ef5350"/>
<rect x="544" y="514" width="1" height="18" fill="#26a69a"/>
<rect x="543" y="515" width="3" height="4" fill="#26a69a"/>
<rect x="547" y="504" width="1" height="10" fill="#26a69a"/>
<rect x="546" y="505" width="3" height="9" fill="#26a69a"/>
<rect x="549" y="500" width="1" height="34" fill="#ef5350"/>
<rect x="549" y="509" width="2" height="15" fill="#ef5350"/>
<rect x="552" y="519" width="1" height="17" fill="#26a69a"/>
<rect x="551" y="523" width="3" height="1" fill="#26a69a"/>
<rect x="555" y="519" width="1" height="5" fill="#26a69a"/>
<rect x="554" y="520" width="3" height="3" fill="#26a69a"/>
<rect x="557" y="496" width="1" height="32" fill="#ef5350"/>
<rect x="557" y="503" width="2" height="24" fill="#ef5350"/>
<rect x="560" y="511" width="1" height="31" fill="#ef5350"/>
<rect x="559" y="517" width="3" height="24" fill="#ef5350"/>
<rect x="563" y="537" width="1" height="4" fill="#26a69a"/>
<rect x="562" y="539" width="3" height="1" fill="#26a69a"/>
<rect x="565" y="527" width="1" height="20" fill="#26a69a"/>
<rect x="565" y="528" width="2" height="11" fill="#26a69a"/>
<rect x="568" y="511" width="1" height="25" fill="#ef5350"/>
<rect x="567" y="528" width="3" height="5" fill="#ef5350"/>
<rect x="571" y="527" width="1" height="6" fill="#26a69a"/>
<rect x="570" y="527" width="3" height="5" fill="#26a69a"/>
<rect x="573" y="510" width="1" height="31" fill="#ef5350"/>
<rect x="573" y="527" width="2" height="6" fill="#ef5350"/>
<rect x="576" y="522" width="1" height="13" fill="#26a69a"/>
<rect x="575" y="527" width="3" height="8" fill="#26a69a"/>
<rect x="579" y="526" width="1" height="3" fill="#ef5350"/>
<rect x="578" y="527" width="3" height="1" fill="#ef5350"/>
<rect x="581" y="500" width="1" height="20" fill="#26a69a"/>
<rect x="581" y="510" width="2" height="3" fill="#26a69a"/>
<rect x="584" y="501" width="1" height="30" fill="#ef5350"/>
<rect x="583" y="510" width="3" height="10" fill="#ef5350"/>
<rect x="587" y="518" width="1" height="3" fill="#ef5350"/>
<rect x="586" y="518" width="3" height="2" fill="#ef5350"/>
<rect x="589" y="523" width="1" height="18" fill="#ef5350"/>
<rect x="589" y="524" width="2" height="16" fill="#ef5350"/>
<rect x="592" y="536" width="1" height="41" fill="#ef5350"/>
<rect x="591" y="540" width="3" height="37" fill="#ef5350"/>
<rect x="595" y="575" width="1" height="14" fill="#ef5350"/>
<rect x="594" y="576" width="3" height="12" fill="#ef5350"/>
<rect x="598" y="562" width="1" height="29" fill="#ef5350"/>
<rect x="597" y="573" width="3" height="15" fill="#ef5350"/>
<rect x="600" y="566" width="1" height="27" fill="#26a69a"/>
<rect x="600" y="583" width="2" height="5" fill="#26a69a"/>
<rect x="603" y="582" width="1" height="6" fill="#26a69a"/>
<rect x="602" y="583" width="3" height="4" fill="#26a69a"/>
<rect x="606" y="527" width="1" height="22" fill="#26a69a"/>
<rect x="605" y="539" width="3" height="8" fill="#26a69a"/>
<rect x="608" y="527" width="1" height="19" fill="#26a69a"/>
<rect x="608" y="539" width="2" height="1" fill="#26a69a"/>
<rect x="611" y="529" width="1" height="10" fill="#26a69a"/>
<rect x="610" y="530" width="3" height="9" fill="#26a69a"/>
<rect x="614" y="512" width="1" height="29" fill="#ef5350"/>
<rect x="613" y="522" width="3" height="17" fill="#ef5350"/>
<rect x="616" y="527" width="1" height="15" fill="#26a69a"/>
<rect x="616" y="527" width="2" height="10" fill="#26a69a"/>
<rect x="619" y="529" width="1" height="7" fill="#ef5350"/>
<rect x="618" y="531" width="3" height="5" fill="#ef5350"/>
<rect x="622" y="544" width="1" height="26" fill="#ef5350"/>
<rect x="621" y="546" width="3" height="15" fill="#ef5350"/>
<rect x="624" y="554" width="1" height="11" fill="#26a69a"/>
<rect x="624" y="558" width="2" height="3" fill="#26a69a"/>
<rect x="627" y="552" width="1" height="6" fill="#26a69a"/>
<rect x="626" y="552" width="3" height="6" fill="#26a69a"/>
<rect x="630" y="522" width="1" height="25" fill="#ef5350"/>
<rect x="629" y="541" width="3" height="3" fill="#ef5350"/>
<rect x="632" y="527" width="1" height="16" fill="#26a69a"/>
<rect x="632" y="530" width="2" height="12" fill="#26a69a"/>
<rect x="635" y="530" width="1" height="8" fill="#ef5350"/>
<rect x="634" y="531" width="3" height="6" fill="#ef5350"/>
<rect x="638" y="539" width="1" height="19" fill="#ef5350"/>
<rect x="637" y="542" width="3" height="2" fill="#ef5350"/>
<rect x="640" y="520" width="1" height="31" fill="#26a69a"/>
<rect x="640" y="526" width="2" height="17" fill="#26a69a"/>
<rect x="643" y="525" width="1" height="5" fill="#ef5350"/>
<rect x="642" y="526" width="3" height="3" fill="#ef5350"/>
<rect x="646" y="537" width="1" height="32" fill="#ef5350"/>
<rect x="645" y="539" width="3" height="20" fill="#ef5350"/>
<rect x="648" y="548" width="1" height="29" fill="#26a69a"/>
<rect x="648" y="549" width="2" height="10" fill="#26a69a"/>
<rect x="651" y="548" width="1" height="8" fill="#ef5350"/>
<rect x="650" y="549" width="3" height="6" fill="#ef5350"/>
<rect x="654" y="539" width="1" height="6" fill="#26a69a"/>
<rect x="653" y="542" width="3" height="1" fill="#26a69a"/>
<rect x="656" y="517" width="1" height="26" fill="#26a69a"/>
<rect x="656" y="527" width="2" height="16" fill="#26a69a"/>
<rect x="659" y="520" width="1" height="7" fill="#26a69a"/>
<rect x="658" y="520" width="3" height="7" fill="#26a69a"/>
<rect x="662" y="504" width="1" height="14" fill="#ef5350"/>
<rect x="661" y="504" width="3" height="11" fill="#ef5350"/>
<rect x="664" y="512" width="1" height="19" fill="#ef5350"/>
<rect x="664" y="514" width="2" height="2" fill="#ef5350"/>
<rect x="667" y="511" width="1" height="6" fill="#26a69a"/>
<rect x="666" y="513" width="3" height="3" fill="#26a69a"/>
<rect x="670" y="514" width="1" height="15" fill="#26a69a"/>
<rect x="669" y="515" width="3" height="6" fill="#26a69a"/>
<rect x="672" y="504" width="1" height="14" fill="#26a69a"/>
<rect x="672" y="505" width="2" height="12" fill="#26a69a"/>
<rect x="675" y="495" width="1" height="10" fill="#26a69a"/>
<rect x="674" y="496" width="3" height="8" fill="#26a69a"/>
<rect x="678" y="474" width="1" height="44" fill="#26a69a"/>
<rect x="677" y="477" width="3" height="40" fill="#26a69a"/>
<rect x="680" y="454" width="1" height="33" fill="#26a69a"/>
<rect x="680" y="461" width="2" height="25" fill="#26a69a"/>
<rect x="683" y="451" width="1" height="12" fill="#26a69a"/>
<rect x="682" y="452" width="3" height="11" fill="#26a69a"/>
<rect x="686" y="401" width="1" height="36" fill="#26a69a"/>
<rect x="685" y="405" width="3" height="24" fill="#26a69a"/>
<rect x="688" y="394" width="1" height="21" fill="#ef5350"/>
<rect x="688" y="405" width="2" height="10" fill="#ef5350"/>
<rect x="691" y="405" width="1" height="11" fill="#26a69a"/>
<rect x="690" y="406" width="3" height="9" fill="#26a69a"/>
<rect x="694" y="392" width="1" height="15" fill="#ef5350"/>
<rect x="693" y="393" width="3" height="14" fill="#ef5350"/>
<rect x="696" y="406" width="1" height="14" fill="#ef5350"/>
<rect x="696" y="407" width="2" height="8" fill="#ef5350"/>
<rect x="699" y="413" width="1" height="4" fill="#26a69a"/>
<rect x="698" y="414" width="3" height="2" fill="#26a69a"/>
<rect x="702" y="411" width="1" height="21" fill="#26a69a"/>
<rect x="701" y="412" width="3" height="7" fill="#26a69a"/>
<rect x="704" y="399" width="1" height="15" fill="#26a69a"/>
<rect x="704" y="407" width="2" height="7" fill="#26a69a"/>
<rect x="707" y="407" width="1" height="11" fill="#ef5350"/>
<rect x="706" y="408" width="3" height="6" fill="#ef5350"/>
<rect x="710" y="406" width="1" height="21" fill="#26a69a"/>
<rect x="709" y="407" width="3" height="6" fill="#26a69a"/>
<rect x="712" y="403" width="1" height="10" fill="#ef5350"/>
<rect x="712" y="408" width="2" height="4" fill="#ef5350"/>
<rect x="715" y="408" width="1" height="8" fill="#ef5350"/>
<rect x="714" y="409" width="3" height="6" fill="#ef5350"/>
<rect x="718" y="385" width="1" height="33" fill="#26a69a"/>
<rect x="717" y="386" width="3" height="30" fill="#26a69a"/>
<rect x="721" y="374" width="1" height="17" fill="#26a69a"/>
<rect x="720" y="377" width="3" height="11" fill="#26a69a"/>
<rect x="723" y="374" width="1" height="6" fill="#26a69a"/>
<rect x="723" y="376" width="2" height="4" fill="#26a69a"/>
<rect x="726" y="362" width="1" height="17" fill="#26a69a"/>
<rect x="725" y="366" width="3" height="3" fill="#26a69a"/>
<rect x="729" y="352" width="1" height="24" fill="#ef5350"/>
<rect x="728" y="366" width="3" height="5" fill="#ef5350"/>
<rect x="731" y="368" width="1" height="4" fill="#ef5350"/>
<rect x="731" y="368" width="2" height="3" fill="#ef5350"/>
<rect x="734" y="364" width="1" height="27" fill="#ef5350"/>
<rect x="733" y="368" width="3" height="12" fill="#ef5350"/>
<rect x="737" y="374" width="1" height="31" fill="#ef5350"/>
<rect x="736" y="380" width="3" height="21" fill="#ef5350"/>
<rect x="739" y="399" width="1" height="36" fill="#ef5350"/>
<rect x="739" y="400" width="2" height="20" fill="#ef5350"/>
<rect x="742" y="404" width="1" height="17" fill="#ef5350"/>
<rect x="741" y="417" width="3" height="3" fill="#ef5350"/>
<rect x="745" y="418" width="1" height="17" fill="#ef5350"/>
<rect x="744" y="419" width="3" height="3" fill="#ef5350"/>
<rect x="747" y="414" width="1" height="8" fill="#26a69a"/>
<rect x="747" y="416" width="2" height="6" fill="#26a69a"/>
<rect x="750" y="442" width="1" height="37" fill="#ef5350"/>
<rect x="749" y="449" width="3" height="24" fill="#ef5350"/>
<rect x="753" y="437" width="1" height="36" fill="#26a69a"/>
<rect x="752" y="441" width="3" height="32" fill="#26a69a"/>
<rect x="755" y="438" width="1" height="4" fill="#26a69a"/>
<rect x="755" y="439" width="2" height="2" fill="#26a69a"/>
<rect x="758" y="422" width="1" height="15" fill="#ef5350"/>
<rect x="757" y="434" width="3" height="2" fill="#ef5350"/>
<rect x="761" y="431" width="1" height="15" fill="#ef5350"/>
<rect x="760" y="435" width="3" height="7" fill="#ef5350"/>
<rect x="763" y="440" width="1" height="7" fill="#ef5350"/>
<rect x="763" y="441" width="2" height="2" fill="#ef5350"/>
<rect x="766" y="439" width="1" height="29" fill="#26a69a"/>
<rect x="765" y="443" width="3" height="3" fill="#26a69a"/>
<rect x="769" y="439" width="1" height="19" fill="#26a69a"/>
<rect x="768" y="440" width="3" height="5" fill="#26a69a"/>
<rect x="771" y="431" width="1" height="9" fill="#26a69a"/>
<rect x="771" y="432" width="2" height="8" fill="#26a69a"/>
<rect x="774" y="504" width="1" height="24" fill="#ef5350"/>
<rect x="773" y="504" width="3" height="10" fill="#ef5350"/>
<rect x="777" y="479" width="1" height="36" fill="#26a69a"/>
<rect x="776" y="496" width="3" height="18" fill="#26a69a"/>
<rect x="779" y="496" width="1" height="8" fill="#ef5350"/>
<rect x="779" y="497" width="2" height="6" fill="#ef5350"/>
<rect x="782" y="452" width="1" height="21" fill="#26a69a"/>
<rect x="781" y="461" width="3" height="11" fill="#26a69a"/>
<rect x="785" y="433" width="1" height="30" fill="#26a69a"/>
<rect x="784" y="436" width="3" height="26" fill="#26a69a"/>
<rect x="787" y="429" width="1" height="8" fill="#26a69a"/>
<rect x="787" y="429" width="2" height="7" fill="#26a69a"/>
<rect x="790" y="427" width="1" height="17" fill="#ef5350"/>
<rect x="789" y="428" width="3" height="6" fill="#ef5350"/>
<rect x="793" y="423" width="1" height="16" fill="#26a69a"/>
<rect x="792" y="424" width="3" height="9" fill="#26a69a"/>
<rect x="795" y="415" width="1" height="12" fill="#26a69a"/>
<rect x="795" y="422" width="2" height="4" fill="#26a69a"/>
<rect x="798" y="420" width="1" height="19" fill="#26a69a"/>
<rect x="797" y="425" width="3" height="4" fill="#26a69a"/>
<rect x="801" y="423" width="1" height="26" fill="#ef5350"/>
<rect x="800" y="424" width="3" height="18" fill="#ef5350"/>
<rect x="803" y="440" width="1" height="14" fill="#ef5350"/>
<rect x="803" y="443" width="2" height="10" fill="#ef5350"/>
<rect x="806" y="442" width="1" height="29" fill="#ef5350"/>
<rect x="805" y="443" width="3" height="11" fill="#ef5350"/>
<rect x="809" y="444" width="1" height="21" fill="#26a69a"/>
<rect x="808" y="446" width="3" height="8" fill="#26a69a"/>
<rect x="811" y="441" width="1" height="6" fill="#26a69a"/>
<rect x="811" y="441" width="2" height="5" fill="#26a69a"/>
<rect x="814" y="432" width="1" height="16" fill="#ef5350"/>
<rect x="813" y="432" width="3" height="16" fill="#ef5350"/>
<rect x="817" y="434" width="1" height="18" fill="#26a69a"/>
<rect x="816" y="443" width="3" height="5" fill="#26a69a"/>
<rect x="819" y="436" width="1" height="9" fill="#26a69a"/>
<rect x="819" y="436" width="2" height="8" fill="#26a69a"/>
<rect x="822" y="420" width="1" height="21" fill="#ef5350"/>
<rect x="821" y="423" width="3" height="18" fill="#ef5350"/>
<rect x="825" y="427" width="1" height="19" fill="#26a69a"/>
<rect x="824" y="428" width="3" height="13" fill="#26a69a"/>
<rect x="827" y="427" width="1" height="10" fill="#26a69a"/>
<rect x="827" y="428" width="2" height="8" fill="#26a69a"/>
<rect x="830" y="428" width="1" height="18" fill="#26a69a"/>
<rect x="829" y="429" width="3" height="12" fill="#26a69a"/>
<rect x="833" y="422" width="1" height="12" fill="#26a69a"/>
<rect x="832" y="427" width="3" height="6" fill="#26a69a"/>
<rect x="835" y="427" width="1" height="5" fill="#ef5350"/>
<rect x="835" y="428" width="2" height="3" fill="#ef5350"/>
<rect x="838" y="424" width="1" height="14" fill="#26a69a"/>
<rect x="837" y="432" width="3" height="3" fill="#26a69a"/>
<rect x="841" y="427" width="1" height="35" fill="#ef5350"/>
<rect x="840" y="432" width="3" height="25" fill="#ef5350"/>
<rect x="844" y="456" width="1" height="3" fill="#ef5350"/>
<rect x="843" y="456" width="3" height="2" fill="#ef5350"/>
<rect x="846" y="442" width="1" height="25" fill="#ef5350"/>
<rect x="846" y="446" width="2" height="20" fill="#ef5350"/>
<rect x="849" y="451" width="1" height="20" fill="#26a69a"/>
<rect x="848" y="459" width="3" height="7" fill="#26a69a"/>
<rect x="852" y="454" width="1" height="6" fill="#26a69a"/>
<rect x="851" y="454" width="3" height="5" fill="#26a69a"/>
<rect x="854" y="457" width="1" height="23" fill="#ef5350"/>
<rect x="854" y="458" width="2" height="9" fill="#ef5350"/>
<rect x="857" y="466" width="1" height="23" fill="#ef5350"/>
<rect x="856" y="467" width="3" height="18" fill="#ef5350"/>
<rect x="860" y="483" width="1" height="5" fill="#26a69a"/>
<rect x="859" y="484" width="3" height="1" fill="#26a69a"/>
<rect x="862" y="437" width="1" height="42" fill="#26a69a"/>
<rect x="862" y="441" width="2" height="38" fill="#26a69a"/>
<rect x="865" y="437" width="1" height="22" fill="#ef5350"/>
<rect x="864" y="441" width="3" height="18" fill="#ef5350"/>
<rect x="868" y="457" width="1" height="3" fill="#ef5350"/>
<rect x="867" y="458" width="3" height="1" fill="#ef5350"/>
<rect x="870" y="506" width="1" height="24" fill="#26a69a"/>
<rect x="870" y="508" width="2" height="1" fill="#26a69a"/>
<rect x="873" y="481" width="1" height="32" fill="#26a69a"/>
<rect x="872" y="487" width="3" height="22" fill="#26a69a"/>
<rect x="876" y="485" width="1" height="6" fill="#26a69a"/>
<rect x="875" y="486" width="3" height="2" fill="#26a69a"/>
<rect x="878" y="498" width="1" height="22" fill="#26a69a"/>
<rect x="878" y="499" width="2" height="7" fill="#26a69a"/>
<rect x="881" y="460" width="1" height="46" fill="#26a69a"/>
<rect x="880" y="468" width="3" height="38" fill="#26a69a"/>
<rect x="884" y="467" width="1" height="10" fill="#ef5350"/>
<rect x="883" y="468" width="3" height="3" fill="#ef5350"/>
<rect x="886" y="466" width="1" height="22" fill="#26a69a"/>
<rect x="886" y="467" width="2" height="11" fill="#26a69a"/>
<rect x="889" y="472" width="1" height="49" fill="#ef5350"/>
<rect x="888" y="474" width="3" height="47" fill="#ef5350"/>
<rect x="892" y="513" width="1" height="8" fill="#26a69a"/>
<rect x="891" y="519" width="3" height="2" fill="#26a69a"/>
<rect x="894" y="503" width="1" height="59" fill="#ef5350"/>
<rect x="894" y="509" width="2" height="42" fill="#ef5350"/>
<rect x="897" y="542" width="1" height="24" fill="#ef5350"/>
<rect x="896" y="545" width="3" height="6" fill="#ef5350"/>
<rect x="900" y="547" width="1" height="6" fill="#26a69a"/>
<rect x="899" y="549" width="3" height="2" fill="#26a69a"/>
<rect x="902" y="473" width="1" height="28" fill="#26a69a"/>
<rect x="902" y="474" width="2" height="15" fill="#26a69a"/>
<rect x="905" y="474" width="1" height="11" fill="#ef5350"/>
<rect x="904" y="475" width="3" height="9" fill="#ef5350"/>
<rect x="908" y="478" width="1" height="6" fill="#26a69a"/>
<rect x="907" y="479" width="3" height="4" fill="#26a69a"/>
<rect x="910" y="468" width="1" height="16" fill="#ef5350"/>
<rect x="910" y="480" width="2" height="3" fill="#ef5350"/>
<rect x="913" y="462" width="1" height="23" fill="#26a69a"/>
<rect x="912" y="469" width="3" height="14" fill="#26a69a"/>
<rect x="916" y="459" width="1" height="11" fill="#26a69a"/>
<rect x="915" y="461" width="3" height="8" fill="#26a69a"/>
<rect x="918" y="413" width="1" height="26" fill="#26a69a"/>
<rect x="918" y="422" width="2" height="16" fill="#26a69a"/>
<rect x="921" y="405" width="1" height="18" fill="#26a69a"/>
<rect x="920" y="419" width="3" height="3" fill="#26a69a"/>
<rect x="924" y="415" width="1" height="5" fill="#26a69a"/>
<rect x="923" y="416" width="3" height="3" fill="#26a69a"/>
<rect x="926" y="409" width="1" height="35" fill="#ef5350"/>
<rect x="926" y="417" width="2" height="21" fill="#ef5350"/>
<rect x="929" y="434" width="1" height="31" fill="#ef5350"/>
<rect x="928" y="438" width="3" height="26" fill="#ef5350"/>
<rect x="932" y="462" width="1" height="9" fill="#ef5350"/>
<rect x="931" y="463" width="3" height="8" fill="#ef5350"/>
<rect x="934" y="478" width="1" height="55" fill="#ef5350"/>
<rect x="934" y="481" width="2" height="51" fill="#ef5350"/>
<rect x="937" y="495" width="1" height="45" fill="#26a69a"/>
<rect x="936" y="500" width="3" height="32" fill="#26a69a"/>
<rect x="940" y="494" width="1" height="13" fill="#26a69a"/>
<rect x="939" y="495" width="3" height="6" fill="#26a69a"/>
<rect x="942" y="489" width="1" height="32" fill="#ef5350"/>
<rect x="942" y="495" width="2" height="24" fill="#ef5350"/>
<rect x="945" y="517" width="1" height="29" fill="#ef5350"/>
<rect x="944" y="518" width="3" height="27" fill="#ef5350"/>
<rect x="948" y="542" width="1" height="11" fill="#26a69a"/>
<rect x="947" y="544" width="3" height="2" fill="#26a69a"/>
<rect x="950" y="581" width="1" height="21" fill="#26a69a"/>
<rect x="950" y="590" width="2" height="11" fill="#26a69a"/>
<rect x="953" y="590" width="1" height="34" fill="#ef5350"/>
<rect x="952" y="591" width="3" height="26" fill="#ef5350"/>
<rect x="956" y="594" width="1" height="28" fill="#26a69a"/>
<rect x="955" y="611" width="3" height="7" fill="#26a69a"/>
<rect x="958" y="596" width="1" height="25" fill="#26a69a"/>
<rect x="958" y="599" width="2" height="13" fill="#26a69a"/>
<rect x="961" y="578" width="1" height="24" fill="#26a69a"/>
<rect x="960" y="599" width="3" height="2" fill="#26a69a"/>
<rect x="964" y="599" width="1" height="8" fill="#ef5350"/>
<rect x="963" y="599" width="3" height="8" fill="#ef5350"/>
<rect x="967" y="567" width="1" height="21" fill="#ef5350"/>
<rect x="966" y="576" width="3" height="7" fill="#ef5350"/>
<rect x="969" y="556" width="1" height="29" fill="#26a69a"/>
<rect x="969" y="570" width="2" height="13" fill="#26a69a"/>
<rect x="972" y="569" width="1" height="23" fill="#ef5350"/>
<rect x="971" y="570" width="3" height="19" fill="#ef5350"/>
<rect x="975" y="609" width="1" height="38" fill="#26a69a"/>
<rect x="974" y="623" width="3" height="23" fill="#26a69a"/>
<rect x="977" y="598" width="1" height="36" fill="#ef5350"/>
<rect x="977" y="623" width="2" height="1" fill="#ef5350"/>
<rect x="980" y="622" width="1" height="8" fill="#ef5350"/>
<rect x="979" y="623" width="3" height="1" fill="#ef5350"/>
<rect x="983" y="576" width="1" height="40" fill="#ef5350"/>
<rect x="982" y="594" width="3" height="10" fill="#ef5350"/>
<rect x="985" y="588" width="1" height="21" fill="#26a69a"/>
<rect x="985" y="594" width="2" height="10" fill="#26a69a"/>
<rect x="988" y="594" width="1" height="5" fill="#ef5350"/>
<rect x="987" y="595" width="3" height="3" fill="#ef5350"/>
<rect x="991" y="598" width="1" height="19" fill="#ef5350"/>
<rect x="990" y="598" width="3" height="1" fill="#ef5350"/>
<rect x="993" y="560" width="1" height="39" fill="#26a69a"/>
<rect x="993" y="562" width="2" height="36" fill="#26a69a"/>
<rect x="996" y="563" width="1" height="4" fill="#ef5350"/>
<rect x="995" y="563" width="3" height="3" fill="#ef5350"/>
<rect x="999" y="543" width="1" height="23" fill="#ef5350"/>
<rect x="998" y="544" width="3" height="8" fill="#ef5350"/>
<rect x="1001" y="526" width="1" height="39" fill="#26a69a"/>
<rect x="1001" y="527" width="2" height="25" fill="#26a69a"/>
<rect x="1004" y="523" width="1" height="5" fill="#26a69a"/>
<rect x="1003" y="526" width="3" height="1" fill="#26a69a"/>
<rect x="1007" y="504" width="1" height="19" fill="#26a69a"/>
<rect x="1006" y="514" width="3" height="7" fill="#26a69a"/>
<rect x="1009" y="504" width="1" height="11" fill="#26a69a"/>
<rect x="1009" y="512" width="2" height="2" fill="#26a69a"/>
<rect x="1012" y="511" width="1" height="5" fill="#ef5350"/>
<rect x="1011" y="512" width="3" height="2" fill="#ef5350"/>
<rect x="1015" y="511" width="1" height="11" fill="#ef5350"/>
<rect x="1014" y="512" width="3" height="2" fill="#ef5350"/>
<rect x="1017" y="496" width="1" height="18" fill="#26a69a"/>
<rect x="1017" y="506" width="2" height="6" fill="#26a69a"/>
<rect x="1020" y="500" width="1" height="7" fill="#26a69a"/>
<rect x="1019" y="505" width="3" height="1" fill="#26a69a"/>
<rect x="1023" y="520" width="1" height="42" fill="#ef5350"/>
<rect x="1022" y="521" width="3" height="41" fill="#ef5350"/>
<rect x="1025" y="538" width="1" height="31" fill="#26a69a"/>
<rect x="1025" y="540" width="2" height="22" fill="#26a69a"/>
<rect x="1028" y="540" width="1" height="5" fill="#ef5350"/>
<rect x="1027" y="541" width="3" height="2" fill="#ef5350"/>
<rect x="1031" y="512" width="1" height="29" fill="#26a69a"/>
<rect x="1030" y="514" width="3" height="23" fill="#26a69a"/>
<rect x="1033" y="512" width="1" height="21" fill="#26a69a"/>
<rect x="1033" y="515" width="2" height="17" fill="#26a69a"/>
<rect x="1036" y="511" width="1" height="14" fill="#ef5350"/>
<rect x="1035" y="515" width="3" height="10" fill="#ef5350"/>
<rect x="1039" y="503" width="1" height="17" fill="#ef5350"/>
<rect x="1038" y="511" width="3" height="6" fill="#ef5350"/>
<rect x="1041" y="516" width="1" height="18" fill="#ef5350"/>
<rect x="1041" y="517" width="2" height="8" fill="#ef5350"/>
<rect x="1044" y="523" width="1" height="8" fill="#ef5350"/>
<rect x="1043" y="523" width="3" height="7" fill="#ef5350"/>
<rect x="1047" y="490" width="1" height="20" fill="#26a69a"/>
<rect x="1046" y="497" width="3" height="7" fill="#26a69a"/>
<rect x="1049" y="488" width="1" height="12" fill="#26a69a"/>
<rect x="1049" y="496" width="2" height="3" fill="#26a69a"/>
<rect x="1052" y="489" width="1" height="6" fill="#ef5350"/>
<rect x="1051" y="494" width="3" height="1" fill="#ef5350"/>
<rect x="1055" y="467" width="1" height="21" fill="#26a69a"/>
<rect x="1054" y="471" width="3" height="16" fill="#26a69a"/>
<rect x="1057" y="456" width="1" height="15" fill="#26a69a"/>
<rect x="1057" y="467" width="2" height="3" fill="#26a69a"/>
<rect x="1060" y="464" width="1" height="7" fill="#ef5350"/>
<rect x="1059" y="466" width="3" height="4" fill="#ef5350"/>
<rect x="1063" y="460" width="1" height="19" fill="#26a69a"/>
<rect x="1062" y="466" width="3" height="8" fill="#26a69a"/>
<rect x="1065" y="458" width="1" height="17" fill="#ef5350"/>
<rect x="1065" y="466" width="2" height="8" fill="#ef5350"/>
<rect x="1068" y="466" width="1" height="11" fill="#26a69a"/>
<rect x="1067" y="467" width="3" height="7" fill="#26a69a"/>
<rect x="1071" y="447" width="1" height="15" fill="#26a69a"/>
<rect x="1070" y="458" width="3" height="3" fill="#26a69a"/>
<rect x="1073" y="449" width="1" height="10" fill="#26a69a"/>
<rect x="1073" y="451" width="2" height="8" fill="#26a69a"/>
<rect x="1076" y="449" width="1" height="4" fill="#26a69a"/>
<rect x="1075" y="449" width="3" height="3" fill="#26a69a"/>
<rect x="1079" y="450" width="1" height="27" fill="#ef5350"/>
<rect x="1078" y="455" width="3" height="12" fill="#ef5350"/>
<rect x="1081" y="459" width="1" height="6" fill="#26a69a"/>
<rect x="1081" y="459" width="2" height="5" fill="#26a69a"/>
<rect x="1084" y="455" width="1" height="12" fill="#26a69a"/>
<rect x="1083" y="459" width="3" height="5" fill="#26a69a"/>
<rect x="1087" y="448" width="1" height="27" fill="#26a69a"/>
<rect x="1086" y="454" width="3" height="14" fill="#26a69a"/>
<rect x="1090" y="418" width="1" height="37" fill="#26a69a"/>
<rect x="1089" y="420" width="3" height="34" fill="#26a69a"/>
<rect x="1092" y="417" width="1" height="17" fill="#ef5350"/>
<rect x="1092" y="421" width="2" height="12" fill="#ef5350"/>
<rect x="1095" y="400" width="1" height="23" fill="#ef5350"/>
<rect x="1094" y="417" width="3" height="5" fill="#ef5350"/>
<rect x="1098" y="412" width="1" height="32" fill="#ef5350"/>
<rect x="1097" y="421" width="3" height="21" fill="#ef5350"/>
<rect x="1100" y="439" width="1" height="10" fill="#ef5350"/>
<rect x="1100" y="440" width="2" height="3" fill="#ef5350"/>
<rect x="1103" y="425" width="1" height="9" fill="#26a69a"/>
<rect x="1102" y="427" width="3" height="1" fill="#26a69a"/>
<rect x="1106" y="427" width="1" height="22" fill="#ef5350"/>
<rect x="1105" y="428" width="3" height="17" fill="#ef5350"/>
<rect x="1108" y="428" width="1" height="18" fill="#26a69a"/>
<rect x="1108" y="434" width="2" height="11" fill="#26a69a"/>
<rect x="1111" y="446" width="1" height="18" fill="#ef5350"/>
<rect x="1110" y="456" width="3" height="2" fill="#ef5350"/>
<rect x="1114" y="450" width="1" height="25" fill="#ef5350"/>
<rect x="1113" y="457" width="3" height="6" fill="#ef5350"/>
<rect x="1116" y="456" width="1" height="11" fill="#26a69a"/>
<rect x="1116" y="462" width="2" height="3" fill="#26a69a"/>
<rect x="1119" y="447" width="1" height="22" fill="#ef5350"/>
<rect x="1118" y="451" width="3" height="15" fill="#ef5350"/>
<rect x="1122" y="465" width="1" height="17" fill="#ef5350"/>
<rect x="1121" y="466" width="3" height="15" fill="#ef5350"/>
<rect x="1124" y="479" width="1" height="6" fill="#ef5350"/>
<rect x="1124" y="480" width="2" height="3" fill="#ef5350"/>
<rect x="1127" y="470" width="1" height="18" fill="#26a69a"/>
<rect x="1126" y="474" width="3" height="11" fill="#26a69a"/>
<rect x="1130" y="445" width="1" height="31" fill="#26a69a"/>
<rect x="1129" y="446" width="3" height="29" fill="#26a69a"/>
<rect x="1132" y="442" width="1" height="10" fill="#26a69a"/>
<rect x="1132" y="445" width="2" height="1" fill="#26a69a"/>
<rect x="1135" y="435" width="1" height="15" fill="#26a69a"/>
<rect x="1134" y="445" width="3" height="1" fill="#26a69a"/>
<rect x="1138" y="428" width="1" height="21" fill="#26a69a"/>
<rect x="1137" y="434" width="3" height="11" fill="#26a69a"/>
<rect x="1140" y="427" width="1" height="8" fill="#26a69a"/>
<rect x="1140" y="429" width="2" height="5" fill="#26a69a"/>
<rect x="1143" y="419" width="1" height="14" fill="#ef5350"/>
<rect x="1142" y="430" width="3" height="2" fill="#ef5350"/>
<rect x="1146" y="427" width="1" height="16" fill="#ef5350"/>
<rect x="1145" y="431" width="3" height="1" fill="#ef5350"/>
<rect x="1148" y="425" width="1" height="8" fill="#26a69a"/>
<rect x="1148" y="427" width="2" height="5" fill="#26a69a"/>
<rect x="1151" y="422" width="1" height="9" fill="#26a69a"/>
<rect x="1150" y="425" width="3" height="5" fill="#26a69a"/>
<rect x="1154" y="418" width="1" height="16" fill="#26a69a"/>
<rect x="1153" y="419" width="3" height="8" fill="#26a69a"/>
<rect x="1156" y="418" width="1" height="5" fill="#ef5350"/>
<rect x="1156" y="419" width="2" height="4" fill="#ef5350"/>
<rect x="1159" y="416" width="1" height="19" fill="#ef5350"/>
<rect x="1158" y="417" width="3" height="6" fill="#ef5350"/>
<rect x="1162" y="415" width="1" height="12" fill="#26a69a"/>
<rect x="1161" y="416" width="3" height="6" fill="#26a69a"/>
<rect x="1164" y="414" width="1" height="6" fill="#ef5350"/>
<rect x="1164" y="415" width="2" height="3" fill="#ef5350"/>
<rect x="1167" y="398" width="1" height="25" fill="#26a69a"/>
<rect x="1166" y="399" width="3" height="23" fill="#26a69a"/>
<rect x="1170" y="391" width="1" height="10" fill="#26a69a"/>
<rect x="1169" y="392" width="3" height="8" fill="#26a69a"/>
<rect x="1172" y="367" width="1" height="31" fill="#26a69a"/>
<rect x="1172" y="391" width="2" height="6" fill="#26a69a"/>
<rect x="1175" y="377" width="1" height="24" fill="#ef5350"/>
<rect x="1174" y="384" width="3" height="11" fill="#ef5350"/>
<rect x="1178" y="391" width="1" height="13" fill="#26a69a"/>
<rect x="1177" y="392" width="3" height="3" fill="#26a69a"/>
<rect x="1180" y="343" width="1" height="30" fill="#26a69a"/>
<rect x="1180" y="367" width="2" height="1" fill="#26a69a"/>
<rect x="1183" y="339" width="1" height="31" fill="#26a69a"/>
<rect x="1182" y="339" width="3" height="28" fill="#26a69a"/>
<rect x="1186" y="338" width="1" height="3" fill="#26a69a"/>
<rect x="1185" y="339" width="3" height="1" fill="#26a69a"/>
<rect x="1188" y="327" width="1" height="13" fill="#26a69a"/>
<rect x="1188" y="328" width="2" height="11" fill="#26a69a"/>
<rect x="1191" y="320" width="1" height="16" fill="#ef5350"/>
<rect x="1190" y="328" width="3" height="7" fill="#ef5350"/>
<rect x="1194" y="327" width="1" height="9" fill="#26a69a"/>
<rect x="1193" y="332" width="3" height="3" fill="#26a69a"/>
<rect x="1196" y="305" width="1" height="12" fill="#26a69a"/>
<rect x="1196" y="307" width="2" height="9" fill="#26a69a"/>
<rect x="1199" y="297" width="1" height="15" fill="#26a69a"/>
<rect x="1198" y="300" width="3" height="7" fill="#26a69a"/>
<rect x="1202" y="295" width="1" height="6" fill="#26a69a"/>
<rect x="1201" y="299" width="3" height="1" fill="#26a69a"/>
</g>
<g shape-rendering="crispEdges" fill="#2962ff">
<rect x="1121" y="108" width="360" height="2"/>
<rect x="163" y="368" width="1318" height="2"/>
<rect x="78" y="627" width="1403" height="2"/>
</g>
<line x1="769" y1="368" x2="769" y2="630" stroke="#000" stroke-width="2" shape-rendering="crispEdges"/>
<line x1="1140.6" y1="110" x2="1143" y2="370.5" stroke="#000" stroke-width="2"/>
<text x="1490" y="91.0" fill="#131722" textLength="52.5" lengthAdjust="spacingAndGlyphs">26,400.00</text>
<text x="1490" y="123.5" fill="#131722" textLength="52.5" lengthAdjust="spacingAndGlyphs">26,200.00</text>
<text x="1490" y="155.9" fill="#131722" textLength="52.5" lengthAdjust="spacingAndGlyphs">26,000.00</text>
<text x="1490" y="188.4" fill="#131722" textLength="52.5" lengthAdjust="spacingAndGlyphs">25,800.00</text>
<text x="1490" y="220.8" fill="#131722" textLength="52.5" lengthAdjust="spacingAndGlyphs">25,600.00</text>
<text x="1490" y="253.3" fill="#131722" textLength="52.5" lengthAdjust="spacingAndGlyphs">25,400.00</text>
<text x="1490" y="285.8" fill="#131722" textLength="52.5" lengthAdjust="spacingAndGlyphs">25,200.00</text>
<text x="1490" y="318.2" fill="#131722" textLength="52.5" lengthAdjust="spacingAndGlyphs">25,000.00</text>
<text x="1490" y="350.7" fill="#131722" textLength="52.5" lengthAdjust="spacingAndGlyphs">24,800.00</text>
<text x="1490" y="383.1" fill="#131722" textLength="52.5" lengthAdjust="spacingAndGlyphs">24,600.00</text>
<text x="1490" y="415.6" fill="#131722" textLength="52.5" lengthAdjust="spacingAndGlyphs">24,400.00</text>
<text x="1490" y="448.1" fill="#131722" textLength="52.5" lengthAdjust="spacingAndGlyphs">24,200.00</text>
<text x="1490" y="480.5" fill="#131722" textLength="52.5" lengthAdjust="spacingAndGlyphs">24,000.00</text>
<text x="1490" y="513.0" fill="#131722" textLength="52.5" lengthAdjust="spacingAndGlyphs">23,800.00</text>
<text x="1490" y="545.4" fill="#131722" textLength="52.5" lengthAdjust="spacingAndGlyphs">23,600.00</text>
<text x="1490" y="577.9" fill="#131722" textLength="52.5" lengthAdjust="spacingAndGlyphs">23,400.00</text>
<text x="1490" y="610.4" fill="#131722" textLength="52.5" lengthAdjust="spacingAndGlyphs">23,200.00</text>
<text x="1490" y="642.8" fill="#131722" textLength="52.5" lengthAdjust="spacingAndGlyphs">23,000.00</text>
<text x="1490" y="675.3" fill="#131722" textLength="52.5" lengthAdjust="spacingAndGlyphs">22,800.00</text>
<text x="1490" y="707.7" fill="#131722" textLength="52.5" lengthAdjust="spacingAndGlyphs">22,600.00</text>
<text x="1490" y="740.2" fill="#131722" textLength="52.5" lengthAdjust="spacingAndGlyphs">22,400.00</text>
<rect x="1485.5" y="31.5" width="63" height="25" rx="4" ry="4" fill="#fff" stroke="#eceef1" stroke-width="1"/>
<text x="1494" y="49" fill="#131722" textLength="21.3" lengthAdjust="spacingAndGlyphs">EUR</text>
<path d="M1482 101h64a2 2 0 0 1 2 2v13a2 2 0 0 1 -2 2h-64z" fill="#2962ff"/>
<text x="1490" y="113.2" fill="#fff" textLength="51.5" lengthAdjust="spacingAndGlyphs" font-weight="bold">26,267.85</text>
<path d="M1482 361h64a2 2 0 0 1 2 2v13a2 2 0 0 1 -2 2h-64z" fill="#2962ff"/>
<text x="1490" y="373.2" fill="#fff" textLength="51.5" lengthAdjust="spacingAndGlyphs" font-weight="bold">24,662.15</text>
<path d="M1482 620h64a2 2 0 0 1 2 2v13a2 2 0 0 1 -2 2h-64z" fill="#2962ff"/>
<text x="1490" y="632.2" fill="#fff" textLength="51.5" lengthAdjust="spacingAndGlyphs" font-weight="bold">23,069.15</text>
<path d="M1482 291h64a2 2 0 0 1 2 2v13a2 2 0 0 1 -2 2h-64z" fill="#26a69a"/>
<text x="1490" y="303.2" fill="#fff" textLength="51.5" lengthAdjust="spacingAndGlyphs" font-weight="bold">25,098.81</text>
<path d="M1481 291h-28a2 2 0 0 0 -2 2v13a2 2 0 0 0 2 2h28z" fill="#26a69a"/>
<text x="1455.7" y="303.6" fill="#fff" textLength="21.5" lengthAdjust="spacingAndGlyphs">DAX</text>
<text x="10" y="19.2" fill="#1e222d" textLength="384" lengthAdjust="spacingAndGlyphs">hungarychart created with TradingView.com, Jan 08, 2026 07:39 UTC+1</text>
<text x="18.5" y="45.9" fill="#131722" textLength="116.6" lengthAdjust="spacingAndGlyphs">DAX Index · 4h · XETR</text>
<text x="150.3" y="45.9" fill="#131722" textLength="8.2" lengthAdjust="spacingAndGlyphs" text-anchor="end">O</text>
<text x="150.7" y="45.9" fill="#26a69a" textLength="51.3" lengthAdjust="spacingAndGlyphs">25,090.31</text>
<text x="218" y="45.9" fill="#131722" textLength="7.4" lengthAdjust="spacingAndGlyphs" text-anchor="end">H</text>
<text x="218.7" y="45.9" fill="#26a69a" textLength="52.1" lengthAdjust="spacingAndGlyphs">25,121.95</text>
<text x="284.2" y="45.9" fill="#131722" textLength="5.6" lengthAdjust="spacingAndGlyphs" text-anchor="end">L</text>
<text x="284.6" y="45.9" fill="#26a69a" textLength="51.2" lengthAdjust="spacingAndGlyphs">25,090.31</text>
<text x="351.2" y="45.9" fill="#131722" textLength="7.2" lengthAdjust="spacingAndGlyphs" text-anchor="end">C</text>
<text x="351.9" y="45.9" fill="#26a69a" textLength="51.4" lengthAdjust="spacingAndGlyphs">25,098.81</text>
<text x="412.1" y="45.9" fill="#26a69a" textLength="78.1" lengthAdjust="spacingAndGlyphs">+9.19 (+0.04%)</text>
<text x="17.9" y="780.9" fill="#131722" textLength="185.2" lengthAdjust="spacingAndGlyphs">MACD (12, 26, close, 9, EMA, EMA)</text>
<text x="211.1" y="780.9" fill="#b2dfdb" textLength="28.8" lengthAdjust="spacingAndGlyphs">40.40</text>
<text x="247.9" y="780.9" fill="#3346ff" textLength="35.2" lengthAdjust="spacingAndGlyphs">217.64</text>
<text x="291.7" y="780.9" fill="#ffaa1d" textLength="34.6" lengthAdjust="spacingAndGlyphs">177.23</text>
<text x="148.5" y="812.9" fill="#131722" text-anchor="middle">Jul</text>
<text x="333.5" y="812.9" fill="#131722" text-anchor="middle">Aug</text>
<text x="501.5" y="812.9" fill="#131722" text-anchor="middle">Sep</text>
<text x="678.5" y="812.9" fill="#131722" text-anchor="middle">Oct</text>
<text x="862.5" y="812.9" fill="#131722" text-anchor="middle">Nov</text>
<text x="1023.5" y="812.9" fill="#131722" text-anchor="middle">Dec</text>
<text x="1340.5" y="812.9" fill="#131722" text-anchor="middle">Feb</text>
<text x="1172.5" y="812.9" fill="#131722" font-weight="bold" text-anchor="middle">2026</text>
<g fill="#111">
<path d="M11.9 845h12v15h-6v-9.3h-6z"/>
<circle cx="28.9" cy="847.9" r="3.05"/>
<path d="M35.2 845h6.8l-6.2 15h-6.9z"/>
</g>
<text x="48.6" y="860" fill="#111" textLength="121.6" lengthAdjust="spacingAndGlyphs" font-weight="bold" style="font-size:21.8px">TradingView</text>
</svg></body></html>
